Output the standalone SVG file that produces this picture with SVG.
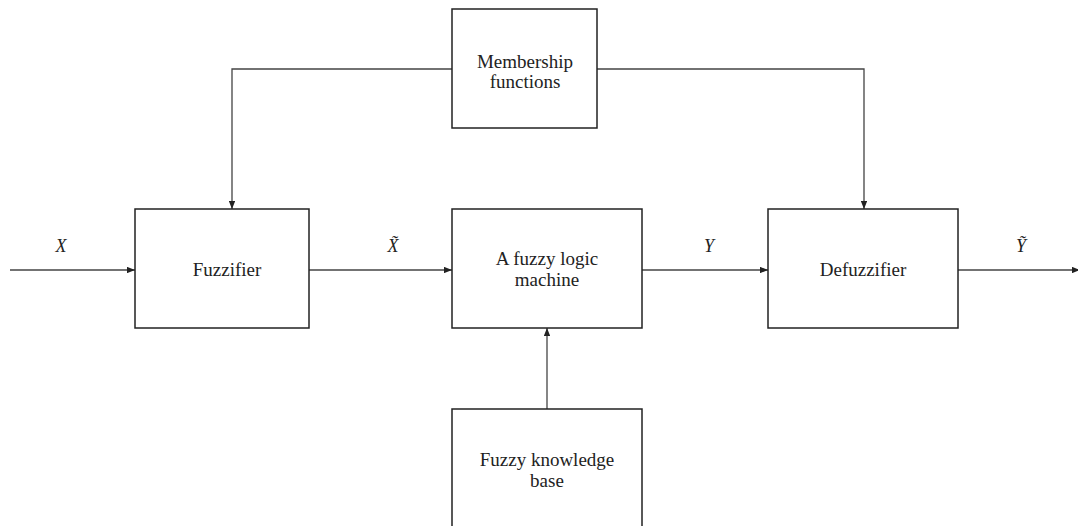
<svg xmlns="http://www.w3.org/2000/svg" width="1078" height="526" viewBox="0 0 1078 526">
  <style>
    .box { fill: #ffffff; stroke: #222222; stroke-width: 1.5; }
    .lbl { font-family: "Liberation Serif", "Times New Roman", serif; font-size: 19px; fill: #222222; text-anchor: middle; }
    .var { font-family: "Liberation Serif", "Times New Roman", serif; font-size: 18px; font-style: italic; fill: #222222; text-anchor: middle; }
    .wire { fill: none; stroke: #444444; stroke-width: 1.3; }
  </style>
  <defs>
    <marker id="arrow" viewBox="0 0 10 8" refX="10" refY="4" markerWidth="8" markerHeight="6.4" markerUnits="userSpaceOnUse" orient="auto">
      <path d="M0,0 L10,4 L0,8 Z" fill="#222222"/>
    </marker>
  </defs>
  <rect width="1078" height="526" fill="#ffffff"/>

  <!-- connectors -->
  <g id="connectors">
    <path class="wire" d="M10,270 L135,270" marker-end="url(#arrow)"/>
    <path class="wire" d="M309,270 L452,270" marker-end="url(#arrow)"/>
    <path class="wire" d="M642,270 L768,270" marker-end="url(#arrow)"/>
    <path class="wire" d="M958,270 L1080,270" marker-end="url(#arrow)"/>
    <path class="wire" d="M452,69 L232,69 L232,209" marker-end="url(#arrow)"/>
    <path class="wire" d="M597,69 L864,69 L864,209" marker-end="url(#arrow)"/>
    <path class="wire" d="M547,409 L547,328" marker-end="url(#arrow)"/>
    <text class="var" x="61" y="252">X</text>
    <text class="var" x="393" y="252">X̃</text>
    <text class="var" x="709" y="252">Y</text>
    <text class="var" x="1021" y="252">Ỹ</text>
  </g>

  <g id="membership">
    <rect class="box" x="452" y="9" width="145" height="119"/>
    <text class="lbl" x="525" y="68">Membership</text>
    <text class="lbl" x="525" y="88">functions</text>
  </g>

  <g id="fuzzifier">
    <rect class="box" x="135" y="209" width="174" height="119"/>
    <text class="lbl" x="227" y="276">Fuzzifier</text>
  </g>

  <g id="logic-machine">
    <rect class="box" x="452" y="209" width="190" height="119"/>
    <text class="lbl" x="547" y="265">A fuzzy logic</text>
    <text class="lbl" x="547" y="286">machine</text>
  </g>

  <g id="defuzzifier">
    <rect class="box" x="768" y="209" width="190" height="119"/>
    <text class="lbl" x="863" y="276">Defuzzifier</text>
  </g>

  <g id="knowledge-base">
    <rect class="box" x="452" y="409" width="190" height="130"/>
    <text class="lbl" x="547" y="466">Fuzzy knowledge</text>
    <text class="lbl" x="547" y="487">base</text>
  </g>
</svg>
